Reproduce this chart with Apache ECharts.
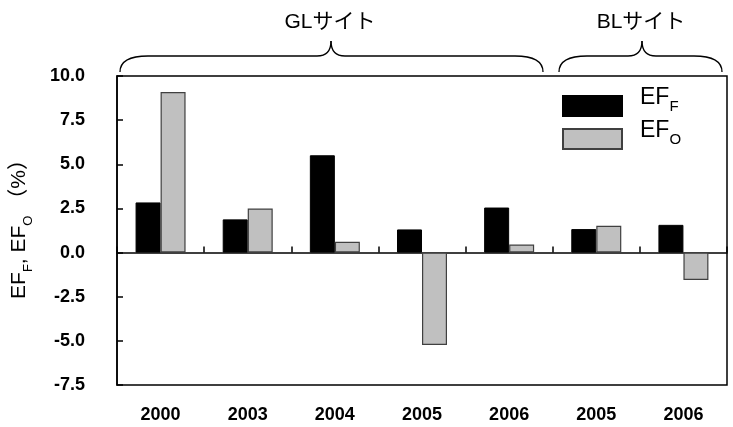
<!DOCTYPE html>
<html>
<head>
<meta charset="utf-8">
<script src="https://cdn.jsdelivr.net/npm/echarts@6/dist/echarts.min.js"></script>
<style>
html,body{margin:0;padding:0;background:#fff;}
#c{width:733px;height:427px;}
</style>
</head>
<body>
<div id="c"></div>
<script>
var categories = ['2000', '2003', '2004', '2005', '2006', '2005', '2006'];
var seriesNames = ['EF_F', 'EF_O'];
var efF = [2.84, 1.88, 5.51, 1.31, 2.55, 1.33, 1.57];
var efO = [9.09, 2.50, 0.61, -5.23, 0.46, 1.52, -1.55];
var siteGroups = ['GLサイト', 'BLサイト'];
var yMin = -7.5, yMax = 10, yStep = 2.5;

var FONT = "'Liberation Sans', Arial, 'Noto Sans CJK JP', sans-serif";
var chart = echarts.init(document.getElementById('c'), null, {renderer: 'canvas'});

function brace(x1, x2, xm, yEnd, yh, yt) {
  var st = {fill: null, stroke: '#000', lineWidth: 1.3};
  function q(ax, ay, cx, cy, bx, by) {
    return {type: 'bezierCurve', shape: {x1: ax, y1: ay, cpx1: cx, cpy1: cy, x2: bx, y2: by}, style: st};
  }
  function l(ax, ay, bx, by) {
    return {type: 'line', shape: {x1: ax, y1: ay, x2: bx, y2: by}, style: st};
  }
  return [
    q(x1, yEnd, x1, yh, x1 + 28, yh),
    l(x1 + 28, yh, xm - 14, yh),
    q(xm - 14, yh, xm, yh, xm, yt),
    q(xm, yt, xm, yh, xm + 14, yh),
    l(xm + 14, yh, x2 - 28, yh),
    q(x2 - 28, yh, x2, yh, x2, yEnd)
  ];
}

var subRich = {
  m: {fontFamily: FONT, fontSize: 23, color: '#000', lineHeight: 26, verticalAlign: 'top'},
  s: {fontFamily: FONT, fontSize: 15, color: '#000', lineHeight: 15, verticalAlign: 'top', padding: [13, 0, 0, 0]},
  e: {fontFamily: FONT, fontSize: 10, lineHeight: 14}
};
var nameRich = {
  m: {fontFamily: FONT, fontSize: 21, color: '#000', lineHeight: 24, verticalAlign: 'top'},
  s: {fontFamily: FONT, fontSize: 13, color: '#000', lineHeight: 13, verticalAlign: 'top', padding: [13, 0, 0, 0]}
};

var graphics = brace(120, 543, 331, 72, 56, 41).concat(brace(559, 722, 642, 72, 56, 41));
graphics.push(
  {type: 'text', x: 330, y: 22, style: {text: siteGroups[0], font: '21px ' + FONT, fill: '#000', align: 'center', verticalAlign: 'middle'}},
  {type: 'text', x: 641, y: 22, style: {text: siteGroups[1], font: '21px ' + FONT, fill: '#000', align: 'center', verticalAlign: 'middle'}},
  {type: 'text', x: 21, y: 224, rotation: Math.PI / 2,
   style: {text: '{m|EF}{s|F}{m|, EF}{s|O}{m| （%）}', rich: nameRich, align: 'center', verticalAlign: 'middle'}}
);

var option = {
  animation: false,
  backgroundColor: '#fff',
  grid: {left: 117, top: 76, right: 6, bottom: 42, show: true, borderColor: '#000', borderWidth: 1.5, backgroundColor: 'transparent'},
  legend: {
    data: seriesNames,
    orient: 'vertical',
    left: 562, top: 86, padding: 0,
    itemWidth: 59, itemHeight: 20, itemGap: -5,
    icon: 'rect',
    formatter: function (n) { var p = n.split('_'); return '{m|' + p[0] + '}{s|' + p[1] + '}\n{e| }'; },
    textStyle: {rich: subRich, padding: [0, 0, 0, 13]}
  },
  xAxis: [{
    type: 'category', data: categories, position: 'bottom',
    axisLine: {show: false, onZero: false}, axisTick: {show: false},
    axisLabel: {color: '#000', fontFamily: FONT, fontSize: 18, fontWeight: 'bold', margin: 21}
  }, {
    type: 'category', data: categories, position: 'bottom',
    axisLine: {show: true, onZero: true, lineStyle: {color: '#000', width: 1.5}},
    axisTick: {show: true, inside: true, length: 6, lineStyle: {color: '#000', width: 1.5}},
    axisLabel: {show: false}
  }],
  yAxis: {
    type: 'value', min: yMin, max: yMax, interval: yStep,
    axisLine: {show: true, lineStyle: {color: '#000', width: 1.5}},
    axisTick: {show: true, inside: true, length: 6, lineStyle: {color: '#000', width: 1.5}},
    splitLine: {show: false},
    axisLabel: {color: '#000', fontFamily: FONT, fontSize: 18, fontWeight: 'bold', margin: 32, formatter: function (v) { return v.toFixed(1); }}
  },
  series: [{
    name: seriesNames[0], type: 'bar', data: efF, barWidth: 25, barGap: '0%',
    itemStyle: {color: '#000', borderColor: '#000', borderWidth: 1}
  }, {
    name: seriesNames[1], type: 'bar', data: efO, barWidth: 25, barGap: '0%',
    itemStyle: {color: '#c0c0c0', borderColor: '#404040', borderWidth: 1.2}
  }],
  graphic: graphics
};
chart.setOption(option);
</script>
</body>
</html>
